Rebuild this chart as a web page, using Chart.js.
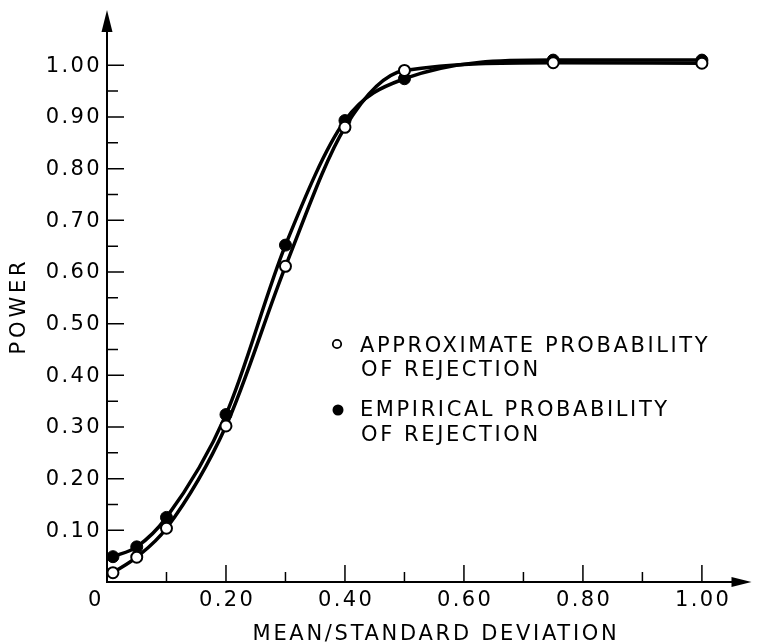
<!DOCTYPE html>
<html>
<head>
<meta charset="utf-8">
<script src="https://cdn.jsdelivr.net/npm/chart.js@4.4.1/dist/chart.umd.min.js"></script>
<style>
  html, body { margin: 0; padding: 0; background: #fff; }
  #wrap { width: 757px; height: 642px; }
</style>
</head>
<body>
<div id="wrap"><canvas id="power-chart" width="757" height="642"></canvas></div>
<script>
// values
const ratios = [0.01, 0.05, 0.10, 0.20, 0.30, 0.40, 0.50, 0.75, 1.00];
const approxPower = [0.018, 0.048, 0.104, 0.302, 0.611, 0.880, 0.990, 1.005, 1.004];
const empiricalPower = [0.049, 0.068, 0.125, 0.324, 0.652, 0.893, 0.974, 1.010, 1.010];

const yTicks = [0.05, 0.10, 0.15, 0.20, 0.25, 0.30, 0.35, 0.40, 0.45, 0.50,
                0.55, 0.60, 0.65, 0.70, 0.75, 0.80, 0.85, 0.90, 0.95, 1.00];
const yLabels = ['', '0.10', '', '0.20', '', '0.30', '', '0.40', '', '0.50',
                 '', '0.60', '', '0.70', '', '0.80', '', '0.90', '', '1.00'];
const xTicks = [0.10, 0.20, 0.30, 0.40, 0.50, 0.60, 0.70, 0.80, 0.90, 1.00];
const xLabels = ['', '0.20', '', '0.40', '', '0.60', '', '0.80', '', '1.00'];

const legendLines = [
  ['APPROXIMATE PROBABILITY', 'OF REJECTION'],
  ['EMPIRICAL PROBABILITY', 'OF REJECTION']
];

const FONT = '21px "DejaVu Sans", sans-serif';

function toPoints(xs, ys) {
  return xs.map((x, i) => ({ x: x, y: ys[i] }));
}

// draws the arrowed axes, inward ticks, labels and the legend box
const axesPlugin = {
  id: 'axesPlugin',
  afterDraw(chart) {
    const ctx = chart.ctx;
    const xs = chart.scales.x;
    const ys = chart.scales.y;
    const area = chart.chartArea;
    const x0 = xs.getPixelForValue(0);
    const y0 = ys.getPixelForValue(0);

    ctx.save();
    ctx.strokeStyle = '#000';
    ctx.fillStyle = '#000';
    ctx.lineWidth = 2;

    // axis lines
    ctx.beginPath();
    ctx.moveTo(x0, y0 + 1);
    ctx.lineTo(x0, area.top + 18);
    ctx.moveTo(x0 - 1, y0);
    ctx.lineTo(area.right - 14, y0);
    ctx.stroke();

    // arrow heads
    ctx.beginPath();
    ctx.moveTo(x0, area.top);
    ctx.lineTo(x0 - 5.5, area.top + 22);
    ctx.lineTo(x0 + 5.5, area.top + 22);
    ctx.closePath();
    ctx.fill();
    ctx.beginPath();
    ctx.moveTo(area.right + 2, y0);
    ctx.lineTo(area.right - 18, y0 - 5);
    ctx.lineTo(area.right - 18, y0 + 5);
    ctx.closePath();
    ctx.fill();

    // ticks
    ctx.lineWidth = 1.5;
    ctx.beginPath();
    yTicks.forEach((v, i) => {
      const py = ys.getPixelForValue(v);
      ctx.moveTo(x0, py);
      ctx.lineTo(x0 + (yLabels[i] ? 17 : 11), py);
    });
    xTicks.forEach((v, i) => {
      const px = xs.getPixelForValue(v);
      ctx.moveTo(px, y0);
      ctx.lineTo(px, y0 - (xLabels[i] ? 17 : 10));
    });
    ctx.stroke();

    // tick labels
    ctx.font = FONT;
    ctx.letterSpacing = '2.4px';
    ctx.textBaseline = 'middle';
    ctx.textAlign = 'right';
    yTicks.forEach((v, i) => {
      if (!yLabels[i]) return;
      ctx.fillText(yLabels[i], x0 - 5, ys.getPixelForValue(v) + 1);
    });
    ctx.textAlign = 'center';
    xTicks.forEach((v, i) => {
      if (!xLabels[i]) return;
      ctx.fillText(xLabels[i], xs.getPixelForValue(v) + 1.2, y0 + 19);
    });
    ctx.fillText('0', x0 - 11, y0 + 19);

    // axis titles
    ctx.letterSpacing = '2.7px';
    ctx.textBaseline = 'alphabetic';
    ctx.fillText('MEAN/STANDARD DEVIATION', 436, 640);
    ctx.save();
    ctx.translate(25, 308);
    ctx.rotate(-Math.PI / 2);
    ctx.letterSpacing = '3.8px';
    ctx.fillText('POWER', 2, 0);
    ctx.restore();

    // legend
    ctx.letterSpacing = '2.6px';
    ctx.textAlign = 'left';
    ctx.fillText(legendLines[0][0], 360, 352);
    ctx.fillText(legendLines[0][1], 361, 376);
    ctx.fillText(legendLines[1][0], 360, 416);
    ctx.fillText(legendLines[1][1], 361, 441);

    ctx.lineWidth = 1.8;
    ctx.fillStyle = '#fff';
    ctx.beginPath();
    ctx.arc(337, 344, 4.2, 0, Math.PI * 2);
    ctx.fill();
    ctx.stroke();
    ctx.fillStyle = '#000';
    ctx.beginPath();
    ctx.arc(338, 410, 5.5, 0, Math.PI * 2);
    ctx.fill();

    ctx.restore();
  }
};

const ctx = document.getElementById('power-chart').getContext('2d');
new Chart(ctx, {
  type: 'line',
  data: {
    datasets: [
      {
        label: 'Approximate probability of rejection',
        data: toPoints(ratios, approxPower),
        borderColor: '#000',
        borderWidth: 3.5,
        cubicInterpolationMode: 'monotone',
        pointRadius: 5.5,
        pointBorderWidth: 2,
        pointBackgroundColor: '#fff',
        pointBorderColor: '#000'
      },
      {
        label: 'Empirical probability of rejection',
        data: toPoints(ratios, empiricalPower),
        borderColor: '#000',
        borderWidth: 3.5,
        cubicInterpolationMode: 'monotone',
        pointRadius: 6,
        pointBorderWidth: 1,
        pointBackgroundColor: '#000',
        pointBorderColor: '#000'
      }
    ]
  },
  options: {
    responsive: false,
    animation: false,
    events: [],
    layout: { padding: { left: 107, top: 10, right: 2, bottom: 60 } },
    plugins: {
      legend: { display: false },
      tooltip: { enabled: false }
    },
    scales: {
      x: { type: 'linear', display: false, min: 0, max: 1.08 },
      y: { type: 'linear', display: false, min: 0, max: 1.107 }
    }
  },
  plugins: [axesPlugin]
});
</script>
</body>
</html>
